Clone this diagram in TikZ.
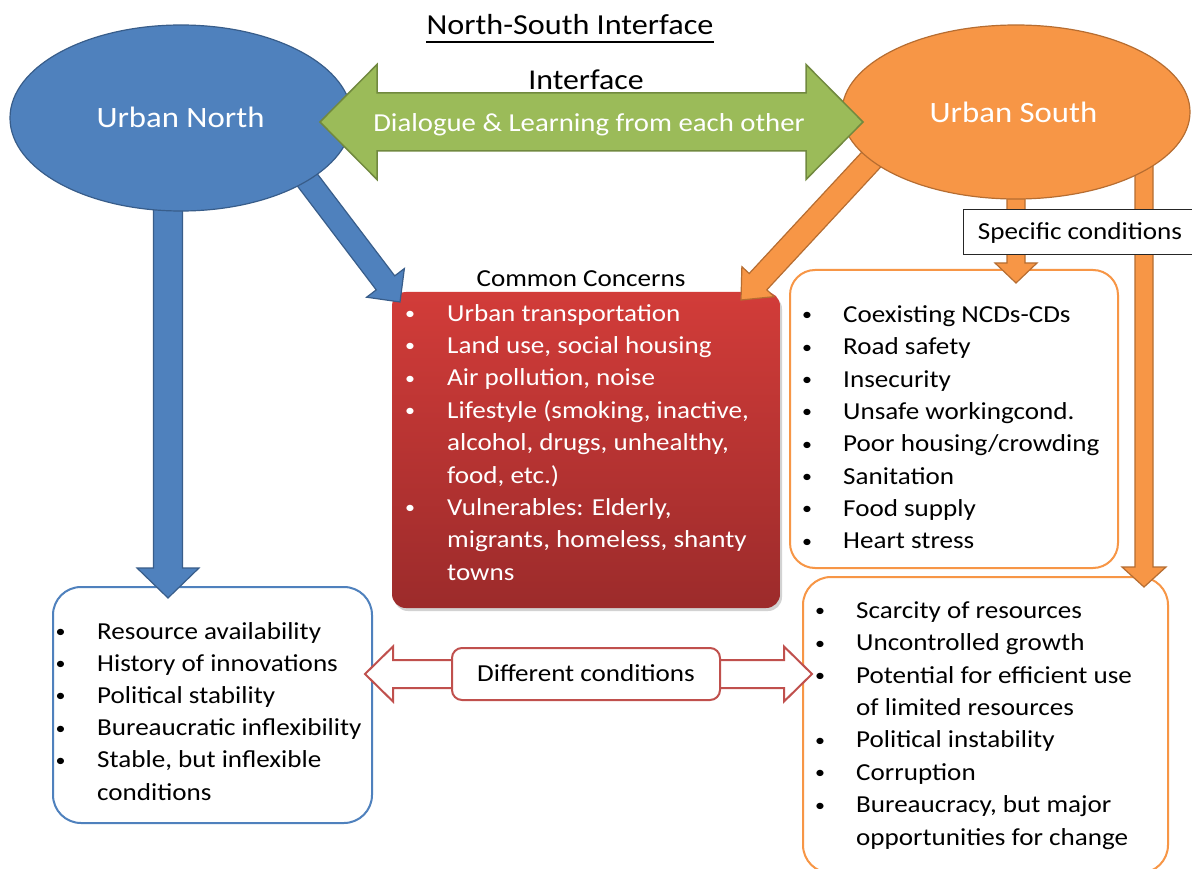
\documentclass[tikz,border=0pt]{standalone}
\usepackage{fontspec}
\setmainfont{Carlito}[FakeStretch=1.11]
\usetikzlibrary{calc,shapes.geometric,shadows}

\definecolor{nblue}{HTML}{4F81BD}
\definecolor{nblueD}{HTML}{385D8A}
\definecolor{sorange}{HTML}{F79646}
\definecolor{sorangeD}{HTML}{B66D31}
\definecolor{igreen}{HTML}{9BBB59}
\definecolor{igreenD}{HTML}{71893F}
\definecolor{dred}{HTML}{C0504D}
\definecolor{ccTop}{RGB}{210,60,57}
\definecolor{ccBot}{RGB}{156,43,43}

\newcommand\myfs[1]{\fontsize{#1}{#1}\selectfont}

% block arrow: style, from, to, shaft half, head half, head length (with units)
\newcommand\blockarrow[6]{%
  \coordinate (bah) at ($(#3)!#6!(#2)$);
  \draw[#1] ($(#2)!#4!90:(#3)$) -- ($(bah)!#4!-90:(#2)$) -- ($(bah)!#5!-90:(#2)$)
    -- (#3) -- ($(bah)!#5!90:(#2)$) -- ($(bah)!#4!90:(#2)$) -- ($(#2)!#4!-90:(#3)$) -- cycle;}

% horizontal double arrow: style, left tip, right tip, shaft half, head half, head length (plain numbers)
\newcommand\dblarrow[6]{%
  \draw[#1] (#2) -- ++(#6,-#5) -- ++(0,{#5-#4}) -- ($(#3)+(-#6,-#4)$) -- ++(0,{#4-#5})
    -- (#3) -- ++(-#6,#5) -- ++(0,{#4-#5}) -- ($(#2)+(#6,#4)$) -- ++(0,{#5-#4}) -- cycle;}

\newcommand\bdot{\raisebox{1.6pt}{\myfs{18}•}}

\begin{document}
\begin{tikzpicture}[x=1pt,y=-1pt,
  itm/.style={anchor=base west, inner sep=0pt, font=\myfs{24.4}},
  bul/.style={anchor=base, inner sep=0pt, font=\myfs{24.4}},
  lbl/.style={anchor=base, inner sep=0pt, font=\myfs{24.4}},
  barrow/.style={fill=nblue, draw=nblueD, line width=1.2pt, line join=miter},
  oarrow/.style={fill=sorange, draw=sorangeD, line width=1.2pt, line join=miter},
  garrow/.style={fill=igreen, draw=igreenD, line width=1.5pt, line join=miter},
  rarrow/.style={fill=white, draw=dred, line width=2pt, line join=miter},
  listbox/.style={rectangle, line width=2pt, fill=white, inner sep=0pt}
]
\useasboundingbox (0,0) rectangle (1192,869);
\fill[white] (0,0) rectangle (1192,869);

% ---------- boxes ----------
\node[rectangle, rounded corners=14pt, top color=ccTop, bottom color=ccBot,
      drop shadow={opacity=0.35, shadow xshift=2pt, shadow yshift=-3pt},
      minimum width=388pt, minimum height=316pt, inner sep=0pt] (cc) at (586,450) {};
\node[listbox, draw=nblue, rounded corners=28pt, minimum width=319pt, minimum height=236pt] (bl) at (212.5,705) {};
\node[listbox, draw=sorange, rounded corners=25pt, minimum width=328pt, minimum height=298pt] (sc) at (954,419) {};
\node[listbox, draw=sorange, rounded corners=28pt, minimum width=365pt, minimum height=296pt] (br) at (985.5,725) {};

% ---------- arrows from the ellipses ----------
\coordinate (bvS) at (168,200);  \coordinate (bvE) at (168,598);
\coordinate (bdS) at (296,165);  \coordinate (bdE) at (400,302);
\coordinate (odS) at (882,148);  \coordinate (odE) at (741,300);
\coordinate (osS) at (1016,190); \coordinate (osE) at (1016,283);
\coordinate (otS) at (1144,160); \coordinate (otE) at (1144,587);
\blockarrow{barrow}{bvS}{bvE}{14.5pt}{31pt}{30pt}
\blockarrow{barrow}{bdS}{bdE}{11.6pt}{23.7pt}{24pt}
\blockarrow{oarrow}{odS}{odE}{12pt}{22pt}{25pt}
\blockarrow{oarrow}{osS}{osE}{9pt}{21pt}{20pt}
\blockarrow{oarrow}{otS}{otE}{9pt}{22pt}{20pt}

% ---------- ellipses ----------
\node[ellipse, fill=nblue, draw=nblueD, line width=1.2pt, minimum width=342pt, minimum height=186pt, inner sep=0pt] (un) at (181,118) {};
\node[ellipse, fill=sorange, draw=sorangeD, line width=1.2pt, minimum width=348pt, minimum height=174pt, inner sep=0pt] (us) at (1016,112) {};
\node[lbl, text=white, font=\myfs{29.5}] (unt) at (180.5,127.7) {Urban North};
\node[lbl, text=white, font=\myfs{29.5}] (ust) at (1013.5,122.7) {Urban South};

% ---------- interface arrow ----------
\coordinate (gL) at (320,122); \coordinate (gR) at (863,122);
\dblarrow{garrow}{gL}{gR}{29}{57.5}{57}
\node[lbl, text=white, font=\myfs{25.9}] (dlg) at (589,131.5) {Dialogue \& Learning from each other};
\node[lbl, font=\myfs{28.7}] (itf) at (586,90) {Interface};

% ---------- title ----------
\node[lbl, font=\myfs{29}] (title) at (570,35) {North-South Interface};
\draw[line width=1.4pt] ([yshift=-7pt]title.base west) -- ([yshift=-7pt]title.base east);

% ---------- specific conditions label ----------
\node[rectangle, draw=black!85, line width=1pt, fill=white, minimum width=232pt, minimum height=45pt, inner sep=0pt] (spc) at (1079,232.5) {};
\node[lbl] (spct) at (1080,240) {Specific conditions};

% ---------- different conditions ----------
\coordinate (dL) at (365,674); \coordinate (dR) at (812,674);
\dblarrow{rarrow}{dL}{dR}{14}{27.5}{28}
\node[rectangle, draw=dred, line width=2pt, fill=white, rounded corners=10pt, minimum width=268pt, minimum height=52pt, inner sep=0pt] (dc) at (586,674) {};
\node[lbl] (dct) at (586,681.7) {Different conditions};

% ---------- common concerns ----------
\node[lbl] (cct) at (581,287) {Common Concerns};
\foreach \t [count=\i] in {{Urban transportation},{Land use, social housing},{Air pollution, noise},
  {Lifestyle (smoking, inactive,},{alcohol, drugs, unhealthy,},{food, etc.)},{Vulnerables: Elderly,},
  {migrants, homeless, shanty},{towns}}
  \node[itm, text=white] (cc-t\i) at (447,{321+(\i-1)*32.4}) {\t};
\foreach \i in {1,2,3,4,7}
  \node[bul, text=white] (cc-b\i) at (410,{321+(\i-1)*32.4}) {\bdot};

% ---------- specific list ----------
\foreach \t [count=\i] in {{Coexisting NCDs-CDs},{Road safety},{Insecurity},{Unsafe workingcond.},
  {Poor housing/crowding},{Sanitation},{Food supply},{Heart stress}}
  {\node[itm] (sc-t\i) at (843,{322.5+(\i-1)*32.3}) {\t};
   \node[bul] (sc-b\i) at (807,{322.5+(\i-1)*32.3}) {\bdot};}

% ---------- south list ----------
\foreach \t [count=\i] in {{Scarcity of resources},{Uncontrolled growth},{Potential for efficient use},
  {of limited resources},{Political instability},{Corruption},{Bureaucracy, but major},{opportunities for change}}
  \node[itm] (br-t\i) at (856,{618.3+(\i-1)*32.4}) {\t};
\foreach \i in {1,2,3,5,6,7}
  \node[bul] (br-b\i) at (820,{618.3+(\i-1)*32.4}) {\bdot};

% ---------- north list ----------
\foreach \t [count=\i] in {{Resource availability},{History of innovations},{Political stability},
  {Bureaucratic inflexibility},{Stable, but inflexible},{conditions}}
  \node[itm] (bl-t\i) at (97,{639+(\i-1)*32.2}) {\t};
\foreach \i in {1,2,3,4,5}
  \node[bul] (bl-b\i) at (60.5,{639+(\i-1)*32.2}) {\bdot};
\end{tikzpicture}
\end{document}
